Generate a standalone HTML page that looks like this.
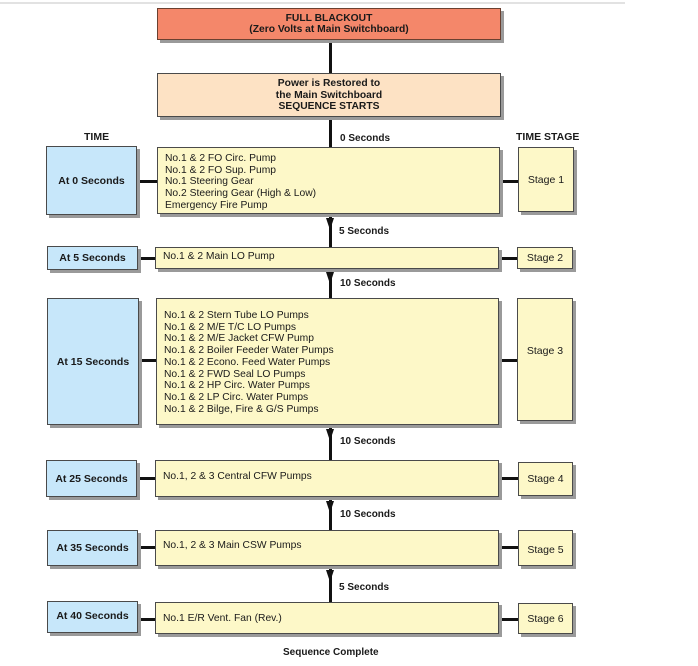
<!DOCTYPE html>
<html><head><meta charset="utf-8"><style>
*{margin:0;padding:0;box-sizing:border-box}
body{width:698px;height:666px;background:#fff;position:relative;overflow:hidden;font-family:"Liberation Sans",Arial,sans-serif;color:#1a1a1a}
.b{position:absolute;border:1px solid #4a4a4a;box-shadow:3px 3px 0 #9a9a9a;font-size:10.3px}
.y{background:#fdf8c8}
.bl{background:#c7e7fa;font-weight:bold;font-size:10.5px;display:flex;align-items:center;justify-content:center}
.st{display:flex;align-items:center;justify-content:center;font-size:10.5px}
.lst{padding:4px 0 0 7px;line-height:11.7px}
.v{position:absolute;left:329px;width:3px;background:#111}
.h{position:absolute;height:3px;background:#111}
.lab{position:absolute;font-weight:bold;font-size:10px}
.ar{position:absolute;left:326px;width:0;height:0;border-left:4.5px solid transparent;border-right:4.5px solid transparent;border-top:12px solid #111}
</style></head><body>
<div style="position:absolute;left:0;top:2px;width:625px;height:2px;background:#e2e2e2"></div>

<div class="v" style="top:40px;height:34px"></div>
<div class="v" style="top:117px;height:31px"></div>
<div class="v" style="top:214px;height:33px"></div><div class="ar" style="top:218px"></div>
<div class="v" style="top:269px;height:30px"></div><div class="ar" style="top:272px"></div>
<div class="v" style="top:425px;height:36px"></div><div class="ar" style="top:429px"></div>
<div class="v" style="top:497px;height:34px"></div><div class="ar" style="top:501px"></div>
<div class="v" style="top:566px;height:37px"></div><div class="ar" style="top:570px"></div>

<div class="b" style="left:157px;top:8px;width:344px;height:32px;background:#f4876a;border-color:#6a4030;text-align:center;font-weight:bold;padding-top:4px;line-height:11px">FULL BLACKOUT<br>(Zero Volts at Main Switchboard)</div>
<div class="b" style="left:157px;top:73px;width:344px;height:44px;background:#fde2c4;text-align:center;font-weight:bold;padding-top:4px;line-height:11.5px">Power is Restored to<br>the Main Switchboard<br>SEQUENCE STARTS</div>

<div class="lab" style="left:84px;top:131px;font-size:10.5px">TIME</div>
<div class="lab" style="left:516px;top:131px;font-size:10.5px">TIME STAGE</div>
<div class="lab" style="left:340px;top:133px">0 Seconds</div>
<div class="lab" style="left:339px;top:226px">5 Seconds</div>
<div class="lab" style="left:340px;top:278px">10 Seconds</div>
<div class="lab" style="left:340px;top:436px">10 Seconds</div>
<div class="lab" style="left:340px;top:509px">10 Seconds</div>
<div class="lab" style="left:339px;top:582px">5 Seconds</div>
<div class="lab" style="left:283px;top:647px">Sequence Complete</div>

<div class="h" style="left:137px;top:180px;width:20px"></div><div class="h" style="left:500px;top:180px;width:18px"></div>
<div class="b bl" style="left:46px;top:146px;width:91px;height:69px">At 0 Seconds</div>
<div class="b y lst" style="left:157px;top:147px;width:343px;height:67px;padding-top:5px">No.1 &amp; 2 FO Circ. Pump<br>No.1 &amp; 2 FO Sup. Pump<br>No.1 Steering Gear<br>No.2 Steering Gear (High &amp; Low)<br>Emergency Fire Pump</div>
<div class="b y st" style="left:518px;top:147px;width:56px;height:65px">Stage 1</div>

<div class="h" style="left:138px;top:257px;width:17px"></div><div class="h" style="left:499px;top:257px;width:18px"></div>
<div class="b bl" style="left:47px;top:246px;width:91px;height:24px">At 5 Seconds</div>
<div class="b y lst" style="left:155px;top:247px;width:344px;height:22px;padding-top:3px">No.1 &amp; 2 Main LO Pump</div>
<div class="b y st" style="left:517px;top:247px;width:56px;height:22px">Stage 2</div>

<div class="h" style="left:139px;top:359px;width:17px"></div><div class="h" style="left:499px;top:359px;width:18px"></div>
<div class="b bl" style="left:47px;top:298px;width:92px;height:127px">At 15 Seconds</div>
<div class="b y lst" style="left:156px;top:298px;width:343px;height:127px;padding-top:11px">No.1 &amp; 2 Stern Tube LO Pumps<br>No.1 &amp; 2 M/E T/C LO Pumps<br>No.1 &amp; 2 M/E Jacket CFW Pump<br>No.1 &amp; 2 Boiler Feeder Water Pumps<br>No.1 &amp; 2 Econo. Feed Water Pumps<br>No.1 &amp; 2 FWD Seal LO Pumps<br>No.1 &amp; 2 HP Circ. Water Pumps<br>No.1 &amp; 2 LP Circ. Water Pumps<br>No.1 &amp; 2 Bilge, Fire &amp; G/S Pumps</div>
<div class="b y st" style="left:517px;top:298px;width:56px;height:123px;padding-bottom:18px">Stage 3</div>

<div class="h" style="left:137px;top:477px;width:18px"></div><div class="h" style="left:499px;top:477px;width:19px"></div>
<div class="b bl" style="left:46px;top:460px;width:91px;height:37px">At 25 Seconds</div>
<div class="b y lst" style="left:155px;top:460px;width:344px;height:37px;padding-top:10px">No.1, 2 &amp; 3 Central CFW Pumps</div>
<div class="b y st" style="left:518px;top:462px;width:55px;height:34px">Stage 4</div>

<div class="h" style="left:138px;top:546px;width:17px"></div><div class="h" style="left:499px;top:546px;width:19px"></div>
<div class="b bl" style="left:47px;top:530px;width:91px;height:36px">At 35 Seconds</div>
<div class="b y lst" style="left:155px;top:530px;width:344px;height:36px;padding-top:9px">No.1, 2 &amp; 3 Main CSW Pumps</div>
<div class="b y st" style="left:518px;top:530px;width:55px;height:36px;padding-top:4px">Stage 5</div>

<div class="h" style="left:138px;top:618px;width:17px"></div><div class="h" style="left:499px;top:618px;width:19px"></div>
<div class="b bl" style="left:47px;top:601px;width:91px;height:32px;padding-bottom:3px">At 40 Seconds</div>
<div class="b y lst" style="left:155px;top:602px;width:344px;height:32px;padding-top:10px">No.1 E/R Vent. Fan (Rev.)</div>
<div class="b y st" style="left:518px;top:603px;width:55px;height:31px">Stage 6</div>
</body></html>
